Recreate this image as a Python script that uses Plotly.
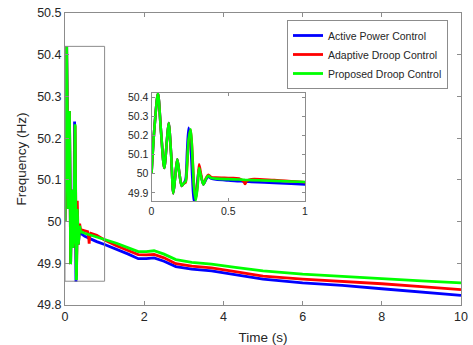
import plotly.graph_objects as go

# ---- data ----
time_s = [0, 0.02, 0.042, 0.062, 0.083, 0.1, 0.112, 0.128, 0.142, 0.155, 0.168, 0.182,
          0.197, 0.21, 0.222, 0.232, 0.242, 0.255, 0.266, 0.277, 0.288, 0.3, 0.31, 0.322,
          0.338, 0.355, 0.37, 0.39, 0.42, 0.5, 0.57, 0.6, 0.61, 0.62, 0.65, 0.8, 1.0,
          1.3, 1.6, 1.85, 2.05, 2.25, 2.5, 2.8, 3.2, 3.7, 4.3, 5, 6, 7, 8, 9, 10]

active_power = [50.0, 50.25, 50.42, 50.22, 50.03, 50.17, 50.265, 50.10, 49.898, 49.99, 50.076, 50.0,
                49.937, 49.95, 49.97, 50.12, 50.24, 50.15, 49.98, 49.855, 49.88, 49.97, 50.025, 49.99,
                49.945, 49.97, 49.985, 49.975, 49.97, 49.965, 49.962, 49.96, 49.96, 49.959, 49.958, 49.952, 49.945,
                49.934, 49.922, 49.911, 49.911, 49.913, 49.905, 49.892, 49.886, 49.882, 49.873, 49.862, 49.853, 49.847, 49.839, 49.831, 49.823]

adaptive_droop = [50.0, 50.25, 50.42, 50.22, 50.03, 50.17, 50.265, 50.10, 49.898, 49.99, 50.076, 50.0,
                  49.937, 49.95, 49.955, 50.04, 50.17, 50.23, 50.11, 49.94, 49.87, 49.94, 50.05, 50.0,
                  49.945, 49.978, 49.995, 49.982, 49.98, 49.978, 49.976, 49.96, 49.947, 49.962, 49.972, 49.967, 49.956,
                  49.942, 49.931, 49.921, 49.92, 49.921, 49.913, 49.899, 49.893, 49.889, 49.88, 49.869, 49.862, 49.857, 49.851, 49.844, 49.837]

proposed_droop = [50.0, 50.25, 50.42, 50.22, 50.03, 50.17, 50.265, 50.10, 49.898, 49.99, 50.076, 50.0,
                  49.937, 49.95, 49.96, 50.05, 50.18, 50.233, 50.1, 49.93, 49.86, 49.93, 50.03, 49.99,
                  49.945, 49.975, 49.99, 49.978, 49.975, 49.972, 49.97, 49.969, 49.968, 49.968, 49.967, 49.963, 49.957,
                  49.948, 49.937, 49.928, 49.928, 49.93, 49.922, 49.909, 49.902, 49.898, 49.89, 49.882, 49.874, 49.868, 49.863, 49.858, 49.853]

series_names = ["Active Power Control", "Adaptive Droop Control", "Proposed Droop Control"]
series_values = [active_power, adaptive_droop, proposed_droop]
series_colors = ["#0000ff", "#ff0000", "#00ff00"]

main_xticks = [0, 2, 4, 6, 8, 10]
main_yticks = [49.8, 49.9, 50.0, 50.1, 50.2, 50.3, 50.4, 50.5]
main_yticklabels = ["49.8", "49.9", "50", "50.1", "50.2", "50.3", "50.4", "50.5"]
inset_xticks = [0, 0.5, 1]
inset_xticklabels = ["0", "0.5", "1"]
inset_yticks = [49.9, 50.0, 50.1, 50.2, 50.3, 50.4]
inset_yticklabels = ["49.9", "50", "50.1", "50.2", "50.3", "50.4"]
zoom_x = [0, 1]
zoom_y = [49.857, 50.42]

# ---- figure ----
W, H = 473, 345
L, R, T, B = 65, 12, 13, 40
PW, PH = W - L - R, H - T - B
FONT = "Liberation Sans, Arial, Helvetica, sans-serif"
AX = "#8c8c8c"
TXT = "#262626"

def dx(px):
    return (px - L) / PW

def dy(py):
    return (H - B - py) / PH

fig = go.Figure()
for name, vals, col in zip(series_names, series_values, series_colors):
    fig.add_trace(go.Scatter(x=time_s, y=vals, mode="lines", name=name,
                             line=dict(color=col, width=2.8), xaxis="x", yaxis="y"))
for name, vals, col in zip(series_names, series_values, series_colors):
    fig.add_trace(go.Scatter(x=time_s, y=vals, mode="lines", name=name, showlegend=False,
                             line=dict(color=col, width=2.6, shape="spline", smoothing=0.8),
                             xaxis="x2", yaxis="y2"))

fig.add_shape(type="rect", xref="x", yref="y", x0=zoom_x[0], x1=zoom_x[1], y0=zoom_y[0], y1=zoom_y[1],
              line=dict(color=AX, width=1), layer="above")

def axis(size, **kw):
    d = dict(showline=True, linecolor=AX, linewidth=1, mirror="ticks", ticks="inside",
             tickcolor=AX, showgrid=False, zeroline=False, automargin=False,
             tickfont=dict(family=FONT, color=TXT, size=size))
    d.update(kw)
    return d

fig.update_layout(
    width=W, height=H,
    margin=dict(l=L, r=R, t=T, b=B),
    paper_bgcolor="white", plot_bgcolor="white",
    font=dict(family=FONT, color=TXT),
    xaxis=axis(12.5, domain=[0, 1], range=[0, 10], tickvals=main_xticks, ticklen=4,
               title=dict(text="Time (s)", font=dict(size=13.5, family=FONT, color=TXT))),
    yaxis=axis(12.5, domain=[0, 1], range=[49.8, 50.5], tickvals=main_yticks,
               ticktext=main_yticklabels, ticklen=4,
               title=dict(text="Frequency (Hz)", font=dict(size=13.5, family=FONT, color=TXT), standoff=7)),
    xaxis2=axis(10.5, domain=[dx(151.5), dx(305)], range=[0, 1], tickvals=inset_xticks,
                ticktext=inset_xticklabels, anchor="y2", ticklen=3),
    yaxis2=axis(10.5, domain=[dy(201), dy(93)], range=[49.858, 50.422], tickvals=inset_yticks,
                ticktext=inset_yticklabels, anchor="x2", ticklen=3),
    legend=dict(x=dx(287), y=dy(20), xanchor="left", yanchor="top",
                bordercolor=AX, borderwidth=1, bgcolor="white",
                font=dict(family=FONT, size=10.5, color=TXT), tracegroupgap=0),
    showlegend=True,
)

fig.write_html("out.html", config={"displayModeBar": False},
               post_script="document.body.style.margin='0px';document.body.style.overflow='hidden';")
